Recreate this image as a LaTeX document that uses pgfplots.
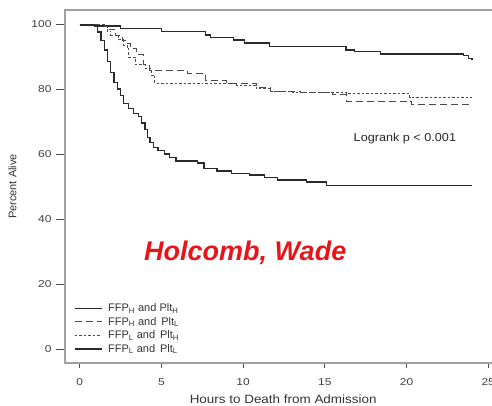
\documentclass[border=0pt]{standalone}
\usepackage{pgfplots}
\pgfplotsset{compat=1.18}
\usepackage{fontspec}
\setmainfont{Liberation Sans}
\definecolor{curve}{HTML}{2A2A2A}
\definecolor{spine}{HTML}{A0A0A0}
\definecolor{hwred}{HTML}{E8141B}
\begin{document}
\begin{tikzpicture}[x=1pt,y=1pt]
\begin{axis}[
  at={(65pt,43pt)}, anchor=south west,
  scale only axis, width=436.3pt, height=353pt,
  xmin=-0.9, xmax=25.8, ymin=-4.3, ymax=104.3,
  xtick={0,5,10,15,20,25}, ytick={0,20,40,60,80,100},
  xtick pos=bottom, ytick pos=left, tick align=outside,
  axis line style={spine, line width=1.6pt},
  tick style={black!70, line width=0.8pt},
  major tick length=9pt,
  xtick style={/pgfplots/major tick length=5pt},
  /pgf/number format/assume math mode=true,
  xticklabel={\scalebox{1.2}[1]{\pgfmathprintnumber[assume math mode=true]{\tick}}},
  yticklabel={\scalebox{1.2}[1]{\pgfmathprintnumber[assume math mode=true]{\tick}}},
  ticklabel style={font=\fontsize{10}{11}\selectfont, text=black!75},
  xticklabel style={yshift=-3pt},
  yticklabel style={xshift=-1pt},
  xlabel={\scalebox{1.12}[1]{Hours to Death from Admission}},
  ylabel={Percent Alive},
  xlabel style={font=\fontsize{12}{13}\selectfont, text=black!80, yshift=-2.5pt},
  ylabel style={font=\fontsize{11}{12}\selectfont, text=black!80, yshift=8pt},
  legend style={at={(axis cs:-0.55,-2.7)}, anchor=south west, draw=none, fill=none,
    font=\fontsize{11}{12}\selectfont, row sep=0pt, text=black!80,
    nodes={inner xsep=6pt}},
  legend cell align=left,
  legend image code/.code={\draw[#1] (0pt,0pt) -- (27pt,0pt);},
  clip=false,
]
\addplot[const plot, curve, line width=1.3pt] coordinates {
(0,99.7) (0.9,99.4) (2.5,98.7) (5.0,97.6) (7.7,96.6) (8.0,95.9) (9.4,95.1)
(10.1,94.1) (11.6,93.0) (16.3,92.0) (16.8,91.5) (18.4,90.8) (23.5,90.2)
(23.8,89.4) (24.0,89.0)};
\addlegendentry{FFP\textsubscript{H} and Plt\textsubscript{H}}
\addplot[const plot, curve!85, line width=1.0pt, dash pattern=on 7pt off 4pt] coordinates {
(0,99.7) (1.5,99.2) (1.8,98.2) (2.2,96.3) (2.6,95.0) (2.9,94.0) (3.1,92.5)
(3.5,90.5) (3.9,87.5) (4.3,85.6) (6.5,85.3) (6.6,84.7) (7.6,84.1) (7.7,82.5)
(9.0,81.7) (10.8,80.4) (11.7,79.3) (13.5,78.8) (15.5,78.2) (16.3,76.3)
(20.1,76.0) (20.3,75.3) (24.0,75.3)};
\addlegendentry{FFP\textsubscript{H} and\, Plt\textsubscript{L}}
\addplot[const plot, curve!85, line width=1.0pt, dash pattern=on 2.5pt off 2pt] coordinates {
(0,99.7) (1.5,99.2) (1.7,97.8) (1.9,96.6) (2.4,95.1) (2.7,93.5) (2.9,92.3)
(3.0,89.8) (3.4,87.5) (4.0,86.3) (4.4,84.3) (4.6,81.8) (7.5,81.6) (9.6,81.1)
(10.8,80.0) (11.7,79.2) (13.0,78.9) (16.3,78.5) (20.1,78.5) (20.2,77.3)
(24.0,77.3)};
\addlegendentry{FFP\textsubscript{L} and\, Plt\textsubscript{H}}
\addplot[const plot, curve, line width=1.3pt] coordinates {
(0,99.7) (0.9,99.4) (1.1,97.5) (1.3,95.0) (1.5,92.0) (1.7,88.5) (1.9,85.0)
(2.1,82.0) (2.3,80.0) (2.5,78.0) (2.7,75.5) (3.0,74.0) (3.3,72.5) (3.6,71.5)
(3.8,69.5) (4.0,67.5) (4.15,65.0) (4.3,63.5) (4.5,62.0) (4.8,61.0) (5.2,60.0)
(5.5,59.0) (5.9,57.8) (7.2,57.2) (7.6,55.5) (8.4,54.8) (9.3,54.0) (10.4,53.5)
(11.3,52.8) (12.1,52.0) (13.9,51.4) (15.1,50.4) (24.0,50.4)};
\addlegendentry{FFP\textsubscript{L} and\, Plt\textsubscript{L}}
\node[font=\fontsize{11.5}{13}\selectfont, text=black!85] at (axis cs:19.9,64.9) {\scalebox{1.1}[1]{Logrank p < 0.001}};
\node[font=\fontsize{27}{30}\bfseries\itshape\selectfont, text=hwred] at (axis cs:10.13,29.5) {Holcomb, Wade};
\end{axis}
\pgfresetboundingbox
\useasboundingbox (0,0) rectangle (492,406);
\end{tikzpicture}
\end{document}
